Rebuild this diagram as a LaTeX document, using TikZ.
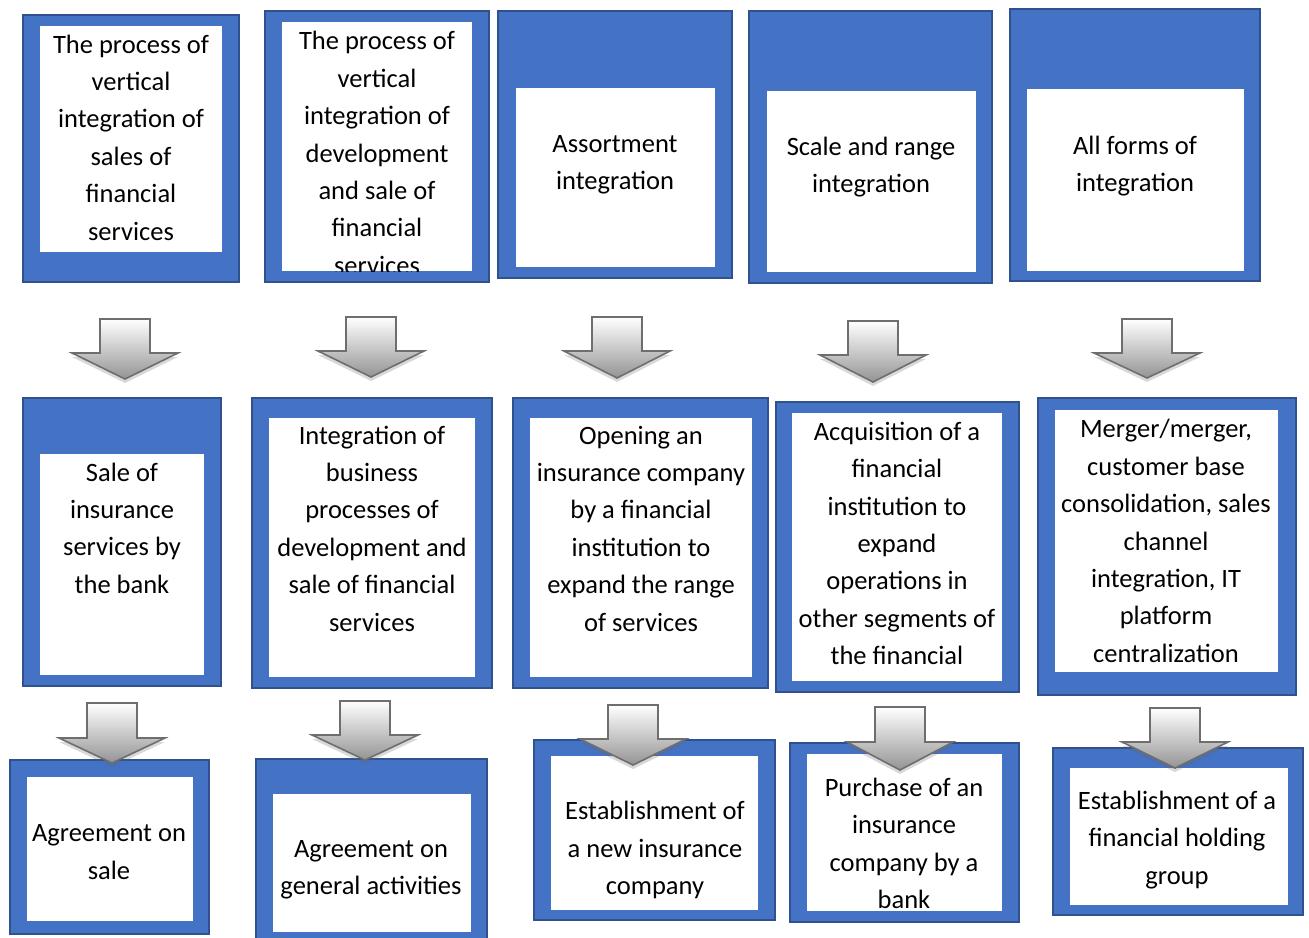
\documentclass[tikz,border=0pt]{standalone}
\usepackage{fontspec}
\setmainfont{Carlito}
\usetikzlibrary{shadows,calc}
\definecolor{boxblue}{HTML}{4472C4}
\definecolor{boxedge}{HTML}{2F528F}
\definecolor{arredge}{HTML}{6E6E6E}
\tikzset{
  outerbox/.style={fill=boxblue,draw=boxedge,line width=1.3pt},
  innerbox/.style={fill=white},
  txt/.style={align=center,inner sep=0pt,font=\fontsize{26.5}{37.4}\selectfont},
  blkarrow/.style={draw=arredge,line width=1.6pt,line join=miter,top color=white,bottom color=black!42,
    drop shadow={shadow xshift=0pt,shadow yshift=-4pt,opacity=0.25,fill=black!60}}
}
\newcommand\barrow[4]{%
  \draw[blkarrow] ({#1-25},#2) -- ({#1+25},#2) -- ({#1+25},#3) -- ({#1+53},#3) -- (#1,#4) -- ({#1-53},#3) -- ({#1-25},#3) -- cycle;}
\begin{document}
\begin{tikzpicture}[x=1pt,y=-1pt]
\useasboundingbox (0,0) rectangle (1309,937);
\clip (0,0) rectangle (1309,937);
% ---------- row 1 ----------
\draw[outerbox] (23,15) rectangle (239,282);
\fill[innerbox] (40,26) rectangle (222,252);
\node[txt] (t1) at (131,137.5) {The process of\\vertical\\integration of\\sales of\\financial\\services};

\draw[outerbox] (265,11) rectangle (489,282);
\fill[innerbox] (282,22) rectangle (472,271);
\begin{scope}
\clip (282,22) rectangle (472,271);
\node[txt] (t2) at (377,153) {The process of\\vertical\\integration of\\development\\and sale of\\financial\\services};
\end{scope}

\draw[outerbox] (498,11) rectangle (732,278);
\fill[innerbox] (516,88) rectangle (715,267);
\node[txt] (t3) at (615,165) {Assortment\\integration};

\draw[outerbox] (749,11) rectangle (992,283);
\fill[innerbox] (767,91) rectangle (976,272);
\node[txt] (t4) at (871,167) {Scale and range\\integration};

\draw[outerbox] (1010,9) rectangle (1260,281);
\fill[innerbox] (1027,89) rectangle (1244,271);
\node[txt] (t5) at (1135,166) {All forms of\\integration};

% ---------- row 2 ----------
\draw[outerbox] (23,398) rectangle (221,686);
\fill[innerbox] (40,454) rectangle (204,675);
\node[txt] (t6) at (122,528) {Sale of\\insurance\\services by\\the bank};

\draw[outerbox] (252,398) rectangle (492,688);
\fill[innerbox] (269,418) rectangle (475,677);
\node[txt] (t7) at (372,528.5) {Integration of\\business\\processes of\\development and\\sale of financial\\services};

\draw[outerbox] (513,398) rectangle (768,688);
\fill[innerbox] (530,418) rectangle (752,677);
\node[txt] (t8) at (641,528.5) {Opening an\\insurance company\\by a financial\\institution to\\expand the range\\of services};

\draw[outerbox] (776,402) rectangle (1019,692);
\fill[innerbox] (792,413) rectangle (1002,681);
\node[txt] (t9) at (897,543.5) {Acquisition of a\\financial\\institution to\\expand\\operations in\\other segments of\\the financial};

\draw[outerbox] (1038,398) rectangle (1296,695);
\fill[innerbox] (1055,410) rectangle (1278,672);
\node[txt] (t10) at (1166,541) {Merger/merger,\\customer base\\consolidation, sales\\channel\\integration, IT\\platform\\centralization};

% ---------- row 3 ----------
\draw[outerbox] (10,760) rectangle (209,934);
\fill[innerbox] (27,777) rectangle (193,921);
\node[txt] (t11) at (109,852) {Agreement on\\sale};

\draw[outerbox] (256,759) rectangle (487,950);
\fill[innerbox] (273,794) rectangle (471,932);
\node[txt] (t12) at (371,870) {Agreement on\\general activities};

\draw[outerbox] (534,740) rectangle (775,920);
\fill[innerbox] (551,756) rectangle (758,910);
\node[txt] (t13) at (655,850) {Establishment of\\a new insurance\\company};

\draw[outerbox] (790,743) rectangle (1019,922);
\fill[innerbox] (807,754) rectangle (1002,911);
\node[txt] (t14) at (904,843.5) {Purchase of an\\insurance\\company by a\\bank};

\draw[outerbox] (1053,748) rectangle (1303,915);
\fill[innerbox] (1070,768) rectangle (1288,905);
\node[txt] (t15) at (1177,840) {Establishment of a\\financial holding\\group};

% ---------- arrows ----------
\barrow{125}{319}{353}{379}
\barrow{371}{317}{351}{377}
\barrow{617}{317}{351}{378}
\barrow{873}{321}{355}{382}
\barrow{1147}{319}{353}{378}
\barrow{112}{703}{738}{763}
\barrow{365}{701}{735}{760}
\barrow{633}{705}{739}{765}
\barrow{900}{707}{742}{770}
\barrow{1175}{708}{742}{768}
\end{tikzpicture}
\end{document}
